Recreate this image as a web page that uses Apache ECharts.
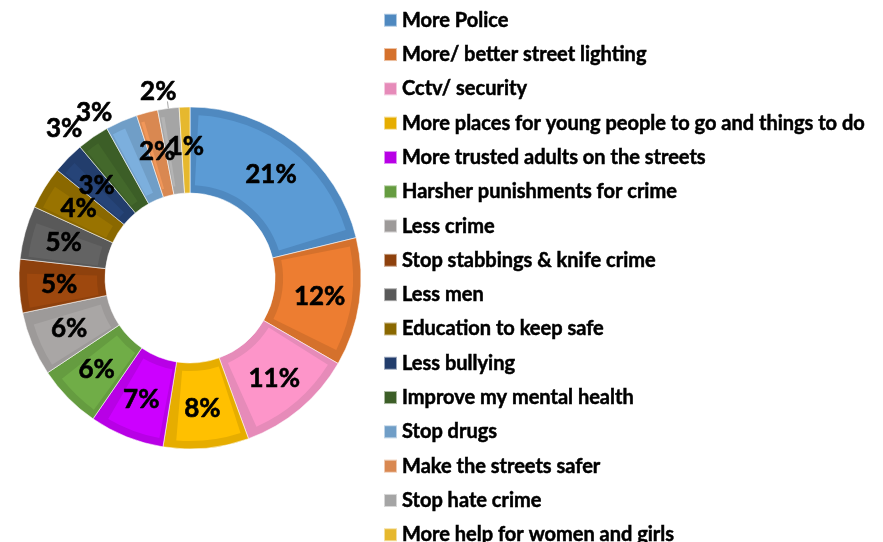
<!DOCTYPE html>
<html>
<head>
<meta charset="utf-8">
<script src="https://cdn.jsdelivr.net/npm/echarts@6/dist/echarts.min.js"></script>
<style>
  html, body { margin: 0; padding: 0; background: #ffffff; }
  #chart { width: 883px; height: 542px; }
</style>
</head>
<body>
<div id="chart"></div>
<script>
// Survey answers: what would make the area feel safer
const categories = [
  'More Police',
  'More/ better street lighting',
  'Cctv/ security',
  'More places for young people to go and things to do',
  'More trusted adults on the streets',
  'Harsher punishments for crime',
  'Less crime',
  'Stop stabbings & knife crime',
  'Less men',
  'Education to keep safe',
  'Less bullying',
  'Improve my mental health',
  'Stop drugs',
  'Make the streets safer',
  'Stop hate crime',
  'More help for women and girls'
];
const shares = [21, 12, 11, 8, 7, 6, 6, 5, 5, 4, 3, 3, 3, 2, 2, 1];

// Fill colour of each slice and the darker rim drawn around it
const fillColors = [
  '#5b9bd5', '#ed7d31', '#fd95c9', '#ffc000', '#cc00ff', '#70ad47', '#a9a6a5', '#9e480e',
  '#636363', '#997300', '#264478', '#43682b', '#7cafdd', '#f1975a', '#b4b4b4', '#ffcb2e'
];
const rimColors = [
  '#4f89c0', '#d5712c', '#e68bb9', '#e6ad00', '#b800e6', '#659c40', '#9d9a99', '#8e410d',
  '#595959', '#8a6800', '#223d6c', '#3c5e27', '#709ec7', '#d98851', '#a5a5a5', '#e6b82e'
];

// Slices whose percentage sits outside the ring
const outsideLabels = ['Improve my mental health', 'Stop drugs', 'Stop hate crime'];

const FONT = 'Lato, "Open Sans", sans-serif';
const CENTER = [190, 278];

const rimData = categories.map((name, i) => ({
  name, value: shares[i], itemStyle: { color: rimColors[i] }
}));
const fillData = categories.map((name, i) => ({
  name, value: shares[i], itemStyle: { color: fillColors[i] }
}));
const labelData = categories.map((name, i) => {
  const outside = outsideLabels.indexOf(name) >= 0;
  return {
    name,
    value: shares[i],
    label: { position: outside ? 'outside' : 'inside' },
    labelLine: {
      show: name === 'Stop hate crime',
      length: name === 'Stop hate crime' ? 7 : 10,
      length2: 0,
      lineStyle: { color: '#a6a6a6', width: 1 }
    }
  };
});

const chart = echarts.init(document.getElementById('chart'), null, { renderer: 'canvas' });

chart.setOption({
  animation: false,
  backgroundColor: '#ffffff',
  legend: {
    orient: 'vertical',
    left: 383,
    top: 10,
    height: 560,
    padding: 0,
    icon: 'rect',
    itemWidth: 13,
    itemHeight: 13,
    itemGap: 13.8,
    data: categories,
    selectedMode: false,
    textStyle: {
      fontFamily: FONT,
      fontWeight: 'bold',
      fontSize: 20,
      color: '#000000',
      textBorderColor: '#000000',
      textBorderWidth: 0.5
    }
  },
  series: [
    {
      // darker rim, full ring
      type: 'pie',
      name: 'rim',
      center: CENTER,
      radius: [85, 171],
      startAngle: 90,
      clockwise: true,
      silent: true,
      label: { show: false },
      labelLine: { show: false },
      itemStyle: { borderColor: 'rgba(255,255,255,0.55)', borderWidth: 1 },
      data: rimData,
      z: 1
    },
    {
      // lighter face, inset inside the rim
      type: 'pie',
      name: 'face',
      center: CENTER,
      radius: [93, 163],
      startAngle: 90,
      clockwise: true,
      padAngle: 6,
      silent: true,
      label: { show: false },
      labelLine: { show: false },
      data: fillData,
      z: 2
    },
    {
      // percentage labels
      type: 'pie',
      name: 'labels',
      center: CENTER,
      radius: [85, 171],
      startAngle: 90,
      clockwise: true,
      silent: true,
      avoidLabelOverlap: false,
      itemStyle: { color: 'rgba(0,0,0,0)' },
      label: {
        show: true,
        formatter: '{c}%',
        fontFamily: FONT,
        fontWeight: 'bold',
        fontSize: 26,
        color: '#000000',
        textBorderColor: '#000000',
        textBorderWidth: 0.6
      },
      labelLayout: function (p) {
        if (p.dataIndex === categories.indexOf('Stop hate crime')) {
          return { dx: 14, dy: -10 };
        }
        return {};
      },
      data: labelData,
      z: 3
    }
  ]
});
</script>
</body>
</html>
